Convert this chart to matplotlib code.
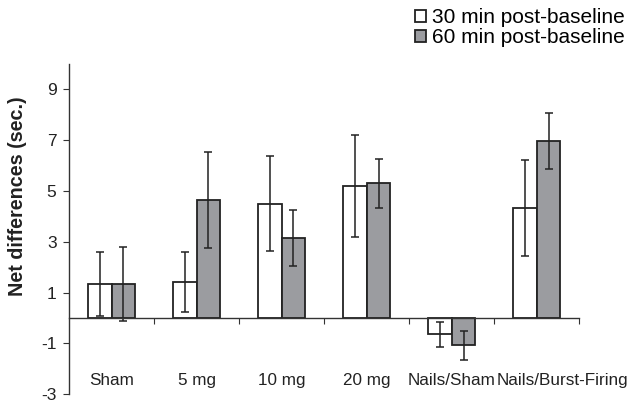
import matplotlib
matplotlib.use("Agg")
import matplotlib.pyplot as plt
import numpy as np

plt.rcParams["font.family"] = ["Liberation Sans", "DejaVu Sans"]

CATEGORIES = ["Sham", "5 mg", "10 mg", "20 mg", "Nails/Sham", "Nails/Burst-Firing"]
MEAN_30 = [1.33, 1.40, 4.50, 5.20, -0.65, 4.33]
ERR_30 = [1.27, 1.18, 1.88, 2.00, 0.50, 1.90]
MEAN_60 = [1.35, 4.64, 3.15, 5.30, -1.08, 6.97]
ERR_60 = [1.45, 1.90, 1.10, 0.95, 0.56, 1.10]
Y_TICKS = [-3, -1, 1, 3, 5, 7, 9]

LABEL_30 = "30 min post-baseline"
LABEL_60 = "60 min post-baseline"
GRAY = "#9b9ca0"
EDGE = "#222222"

fig = plt.figure(figsize=(6.33, 4.03), dpi=100)
ax = fig.add_axes([0.109, 0.022, 0.806, 0.819])

x = np.arange(len(CATEGORIES))
w = 0.28
err_kw = dict(ecolor=EDGE, elinewidth=1.1, capsize=3, capthick=1.1)
b1 = ax.bar(x - w / 2, MEAN_30, w, yerr=ERR_30, color="white",
            edgecolor=EDGE, linewidth=1.3, error_kw=err_kw, label=LABEL_30, zorder=2)
b2 = ax.bar(x + w / 2, MEAN_60, w, yerr=ERR_60, color=GRAY,
            edgecolor=EDGE, linewidth=1.3, error_kw=err_kw, label=LABEL_60, zorder=2)

ax.set_xlim(-0.5, len(CATEGORIES) - 0.5)
ax.set_ylim(-3, 10)
ax.set_yticks(Y_TICKS)
ax.set_yticklabels([str(v) for v in Y_TICKS], fontsize=12.5, color="#222222")

ax.spines["top"].set_visible(False)
ax.spines["right"].set_visible(False)
ax.spines["bottom"].set_position(("data", 0))
for s in ("left", "bottom"):
    ax.spines[s].set_color("#333333")
    ax.spines[s].set_linewidth(1.0)

ax.set_xticks(x + 0.5)
ax.set_xticklabels([])
ax.tick_params(axis="x", direction="out", length=4, color="#333333")
ax.tick_params(axis="y", direction="out", length=4, color="#333333", pad=5)

# last label is nudged right in the original so it clears its neighbour
for xi, name in zip(x, CATEGORIES):
    shift = 0.3 if name == "Nails/Burst-Firing" else 0.0
    ax.text(xi + shift, -2.47, name, ha="center", va="center", fontsize=12.3,
            color="#222222")

ax.set_ylabel("Net differences (sec.)", fontsize=14.2, fontweight="bold",
              color="#222222")
ax.yaxis.set_label_coords(-0.082, 0.6)

fig.legend(handles=[b1, b2], loc="upper right", bbox_to_anchor=(1.0, 1.0),
           frameon=False, fontsize=15, handlelength=0.5, handleheight=0.5,
           handletextpad=0.3, labelspacing=0.05, borderaxespad=0.1,
           borderpad=0.3)

fig.savefig("out.png", dpi=100)
